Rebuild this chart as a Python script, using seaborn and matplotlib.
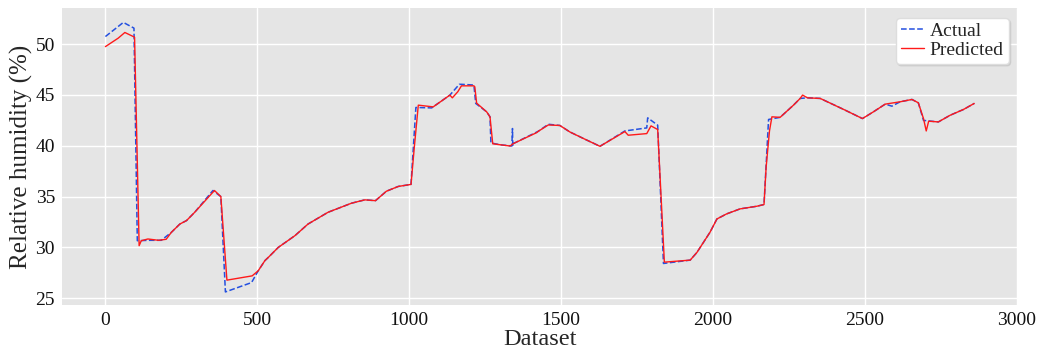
import matplotlib
matplotlib.use("Agg")
import matplotlib.pyplot as plt
import seaborn as sns
import pandas as pd

# ---- data ----
actual_x = [0, 59, 94, 105, 145, 184, 217, 245, 267, 294, 354, 380, 395, 481, 503, 525,
            536, 569, 624, 667, 733, 810, 854, 889, 925, 964, 1006, 1022, 1074, 1134, 1165,
            1172, 1213, 1219, 1255, 1266, 1269, 1300, 1338, 1340, 1341, 1343, 1425, 1458,
            1496, 1529, 1579, 1628, 1710, 1782, 1785, 1818, 1837, 1925, 1947, 1990, 2013,
            2045, 2089, 2144, 2168, 2183, 2221, 2265, 2287, 2311, 2353, 2430, 2492, 2528,
            2567, 2589, 2616, 2655, 2676, 2693, 2742, 2781, 2825, 2860]
actual_y = [50.75, 52.14, 51.58, 30.66, 30.7, 30.7, 31.48, 32.3, 32.64, 33.46, 35.6, 35.0,
            25.62, 26.54, 27.7, 28.7, 29.01, 30.0, 31.16, 32.3, 33.46, 34.35, 34.68, 34.6,
            35.53, 36.0, 36.2, 43.77, 43.73, 44.99, 46.05, 46.05, 45.98, 44.17, 43.34,
            42.85, 40.28, 40.1, 39.98, 41.7, 39.98, 40.22, 41.43, 42.12, 42.0, 41.36,
            40.64, 39.95, 41.46, 41.76, 42.75, 42.03, 28.42, 28.75, 29.5, 31.48, 32.8, 33.3,
            33.79, 34.05, 34.22, 42.59, 42.8, 44.0, 44.66, 44.72, 44.66, 43.58, 42.68,
            43.34, 44.1, 43.9, 44.33, 44.56, 44.23, 42.5, 42.35, 43.01, 43.58, 44.17]

pred_x = [0, 42, 64, 96, 111, 118, 140, 175, 200, 217, 245, 267, 294, 359, 380, 400, 483,
          503, 525, 536, 569, 624, 667, 733, 810, 854, 889, 925, 964, 1006, 1017, 1030,
          1079, 1134, 1142, 1160, 1172, 1213, 1216, 1222, 1255, 1266, 1275, 1300, 1332,
          1343, 1420, 1425, 1458, 1496, 1529, 1579, 1628, 1710, 1721, 1782, 1796, 1818,
          1840, 1925, 1947, 1990, 2013, 2045, 2089, 2144, 2168, 2175, 2186, 2194, 2221,
          2265, 2287, 2295, 2311, 2353, 2430, 2492, 2528, 2567, 2616, 2655, 2676, 2693,
          2702, 2710, 2742, 2781, 2825, 2860]
pred_y = [49.76, 50.59, 51.15, 50.69, 30.17, 30.66, 30.83, 30.7, 30.8, 31.48, 32.3, 32.64,
          33.46, 35.6, 35.0, 26.78, 27.2, 27.7, 28.7, 29.01, 30.0, 31.16, 32.3, 33.46, 34.35,
          34.68, 34.6, 35.53, 36.0, 36.2, 39.9, 44.0, 43.83, 44.99, 44.72, 45.32, 45.9,
          45.9, 45.8, 44.2, 43.34, 42.85, 40.2, 40.1, 39.98, 40.22, 41.3, 41.43, 42.05,
          42.0, 41.36, 40.64, 39.95, 41.4, 41.04, 41.2, 41.96, 41.6, 28.55, 28.75, 29.5,
          31.48, 32.8, 33.3, 33.79, 34.05, 34.22, 37.9, 41.46, 42.85, 42.8, 44.0, 44.66,
          44.99, 44.72, 44.66, 43.58, 42.68, 43.34, 44.1, 44.33, 44.56, 44.23, 42.68,
          41.46, 42.42, 42.35, 43.01, 43.58, 44.17]

series_names = ["Actual", "Predicted"]
x_ticks = [0, 500, 1000, 1500, 2000, 2500, 3000]
y_ticks = [25, 30, 35, 40, 45, 50]

df_a = pd.DataFrame({"Dataset": actual_x, "RH": actual_y})
df_p = pd.DataFrame({"Dataset": pred_x, "RH": pred_y})

sns.set_style("darkgrid", {"axes.facecolor": "#E5E5E5", "grid.color": "white"})
plt.rcParams["font.family"] = ["Liberation Serif", "DejaVu Serif"]

fig = plt.figure(figsize=(10.38, 3.52), dpi=100)
ax = fig.add_axes([0.0597, 0.134, 0.9213, 0.843])

sns.lineplot(data=df_a, x="Dataset", y="RH", ax=ax, sort=False, estimator=None,
             color="#2450E0", linestyle="--", linewidth=1.1, label=series_names[0])
sns.lineplot(data=df_p, x="Dataset", y="RH", ax=ax, sort=False, estimator=None,
             color="#FF1A1A", linestyle="-", linewidth=1.0, label=series_names[1])

ax.set_xticks(x_ticks)
ax.set_yticks(y_ticks)
ax.set_xlim(-143, 3005)
ax.set_ylim(24.35, 53.55)
ax.tick_params(axis="both", labelsize=14, length=0, pad=5, colors="#111111")
ax.set_xlabel("Dataset", fontsize=17.5, labelpad=0)
ax.set_ylabel("Relative humidity (%)", fontsize=18, labelpad=2)
ax.grid(True, color="white", linewidth=1.0)
for s in ax.spines.values():
    s.set_visible(False)

leg = ax.legend(loc="upper right", fontsize=14, frameon=True, fancybox=True,
                shadow={"ox": 1.5, "oy": -1.5, "shade": 0.25},
                handlelength=1.2, handletextpad=0.3, borderpad=0.25, labelspacing=0.05,
                borderaxespad=0.5)
leg.get_frame().set_facecolor("white")
leg.get_frame().set_edgecolor("#dddddd")
leg.get_frame().set_alpha(1.0)

fig.savefig("out.png", dpi=100, facecolor="white")
